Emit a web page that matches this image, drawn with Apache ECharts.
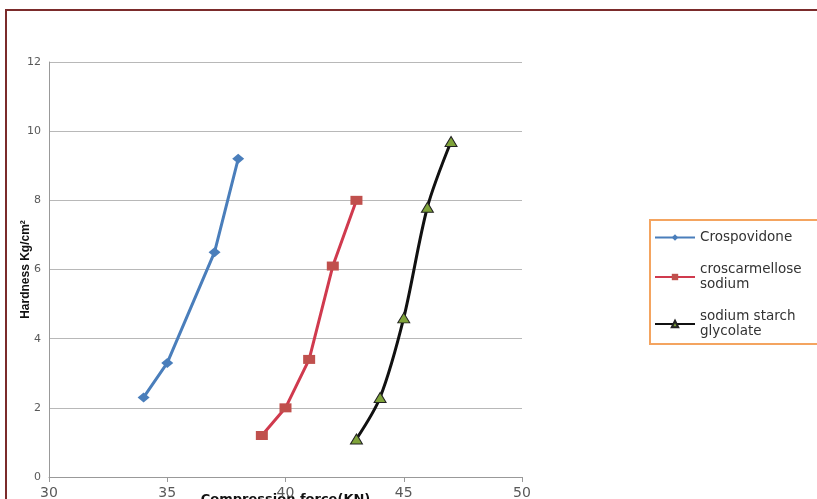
<!DOCTYPE html>
<html>
<head>
<meta charset="utf-8">
<script src="https://cdn.jsdelivr.net/npm/echarts@6/dist/echarts.min.js"></script>
<style>
  html, body { margin: 0; padding: 0; background: #fff; }
  #chart { width: 817px; height: 499px; }
</style>
</head>
<body>
<div id="chart"></div>
<script>
// compression force (KN) vs hardness (Kg/cm2)
const crospovidoneX = [34, 35, 37, 38];
const crospovidoneY = [2.3, 3.3, 6.5, 9.2];
const croscarmelloseX = [39, 40, 41, 42, 43];
const croscarmelloseY = [1.2, 2.0, 3.4, 6.1, 8.0];
const ssgX = [43, 44, 45, 46, 47];
const ssgY = [1.1, 2.3, 4.6, 7.8, 9.7];
const seriesNames = ['Crospovidone', 'croscarmellose\nsodium', 'sodium starch\nglycolate'];

const zip = (xs, ys) => xs.map((x, i) => [x, ys[i]]);

const chart = echarts.init(document.getElementById('chart'));

chart.setOption({
  animation: false,
  textStyle: { fontFamily: '"DejaVu Sans", "Liberation Sans", Arial, sans-serif' },
  graphic: [{
    type: 'rect',
    shape: { x: 6, y: 10, width: 830, height: 520 },
    style: { fill: 'none', stroke: '#7b2b2b', lineWidth: 2 },
    silent: true
  }],
  grid: { left: 49, right: 295, top: 62, bottom: 22, outerBoundsMode: 'none' },
  legend: {
    orient: 'vertical',
    left: 650, top: 220,
    padding: [10, 40, 5, 4],
    itemGap: 17,
    itemWidth: 40, itemHeight: 8,
    backgroundColor: '#fff',
    borderColor: '#f4a460',
    borderWidth: 2,
    textStyle: { fontSize: 13.5, color: '#333', lineHeight: 15 },
    data: seriesNames
  },
  xAxis: {
    type: 'value',
    min: 30, max: 50, interval: 5,
    name: 'Compression force(KN)',
    nameLocation: 'middle',
    nameMoveOverlap: false,
    nameGap: 16,
    nameTextStyle: { fontSize: 13, fontWeight: 'bold', color: '#111', verticalAlign: 'top' },
    axisLine: { lineStyle: { color: '#999' } },
    axisTick: { show: true, length: 5, lineStyle: { color: '#999' } },
    axisLabel: { fontSize: 14, color: '#595959', margin: 9 },
    splitLine: { show: false }
  },
  yAxis: {
    type: 'value',
    min: 0, max: 12, interval: 2,
    name: 'Hardness Kg/cm\u00b2',
    nameLocation: 'middle',
    nameMoveOverlap: false,
    nameGap: 17,
    nameTextStyle: { fontSize: 12, fontWeight: 'bold', color: '#111', fontFamily: '"Liberation Sans", Arial, sans-serif' },
    axisLine: { show: true, lineStyle: { color: '#999' } },
    axisTick: { show: false },
    axisLabel: { fontSize: 11, color: '#595959', margin: 8 },
    splitLine: { lineStyle: { color: '#b8b8b8' } }
  },
  series: [
    {
      name: seriesNames[0],
      type: 'line',
      data: zip(crospovidoneX, crospovidoneY),
      symbol: 'diamond', symbolSize: [12, 10],
      lineStyle: { color: '#4a7ebb', width: 3 },
      itemStyle: { color: '#4a7ebb' }
    },
    {
      name: seriesNames[1],
      type: 'line',
      data: zip(croscarmelloseX, croscarmelloseY),
      symbol: 'rect', symbolSize: [12, 9],
      lineStyle: { color: '#d03a4e', width: 3 },
      itemStyle: { color: '#c0504d' }
    },
    {
      name: seriesNames[2],
      type: 'line',
      data: zip(ssgX, ssgY),
      smooth: 0.3,
      symbol: 'triangle', symbolSize: [12, 10],
      lineStyle: { color: '#111', width: 3 },
      itemStyle: { color: '#7fa33a', borderColor: '#222', borderWidth: 1 }
    }
  ]
});
</script>
</body>
</html>
